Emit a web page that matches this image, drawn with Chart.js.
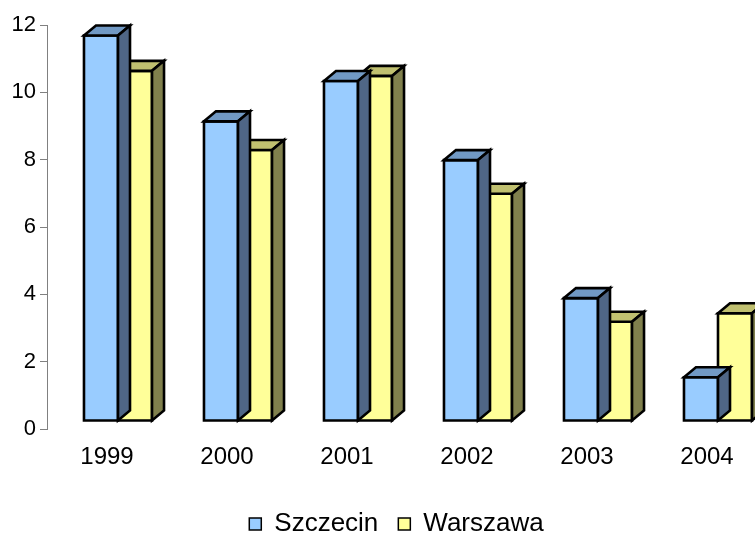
<!DOCTYPE html>
<html>
<head>
<meta charset="utf-8">
<script src="https://cdn.jsdelivr.net/npm/chart.js@4"></script>
<style>
  html, body { margin: 0; padding: 0; overflow: hidden; background: #fff; }
  #wrap { width: 793px; height: 535px; }
</style>
</head>
<body>
<div id="wrap"><canvas id="chart" width="793" height="535"></canvas></div>
<script>
const categories = ["1999", "2000", "2001", "2002", "2003", "2004"];
const szczecin = [11.45, 8.9, 10.1, 7.75, 3.65, 1.3];
const warszawa = [10.4, 8.05, 10.25, 6.75, 2.95, 3.2];
const yTicks = [0, 2, 4, 6, 8, 10, 12];

const FONT = "'Liberation Sans', Arial, sans-serif";

// front face / top / side colours for the fake 3d columns
const shades = [
  { front: "#99ccff", top: "#7199c4", side: "#4f6686" },
  { front: "#ffff99", top: "#c0c070", side: "#80804d" }
];

// draws each column as a little box, moved back into the floor like excel does
const bars3d = {
  id: "bars3d",
  afterLayout(chart) {
    // legend in the original sits a bit right of the canvas centre
    if (chart.legend) {
      chart.legend.left += 13;
      chart.legend.right += 13;
    }
  },
  beforeDatasetDraw(chart, args) {
    const ctx = chart.ctx;
    const c = shades[args.index];
    const shiftX = 11, shiftY = -8;   // where the front face sits
    const dx = 12, dy = -10;          // depth of the box
    ctx.save();
    ctx.lineWidth = 2.6;
    ctx.lineJoin = "miter";
    ctx.strokeStyle = "#000";
    args.meta.data.forEach(bar => {
      const p = bar.getProps(["x", "y", "base", "width"], true);
      const l = p.x - p.width / 2 + shiftX;
      const r = p.x + p.width / 2 + shiftX;
      const t = p.y + shiftY;
      const b = p.base + shiftY;

      ctx.fillStyle = c.front;
      ctx.beginPath();
      ctx.rect(l, t, r - l, b - t);
      ctx.fill();
      ctx.stroke();

      ctx.fillStyle = c.top;
      ctx.beginPath();
      ctx.moveTo(l, t);
      ctx.lineTo(l + dx, t + dy);
      ctx.lineTo(r + dx, t + dy);
      ctx.lineTo(r, t);
      ctx.closePath();
      ctx.fill();
      ctx.stroke();

      ctx.fillStyle = c.side;
      ctx.beginPath();
      ctx.moveTo(r, t);
      ctx.lineTo(r + dx, t + dy);
      ctx.lineTo(r + dx, b + dy);
      ctx.lineTo(r, b);
      ctx.closePath();
      ctx.fill();
      ctx.stroke();
    });
    ctx.restore();
    return false;
  }
};

new Chart(document.getElementById("chart"), {
  type: "bar",
  data: {
    labels: categories,
    datasets: [
      { label: "Szczecin", data: szczecin, backgroundColor: shades[0].front, borderColor: "#000", borderWidth: 1.5 },
      { label: "Warszawa", data: warszawa, backgroundColor: shades[1].front, borderColor: "#000", borderWidth: 1.5 }
    ]
  },
  options: {
    responsive: false,
    animation: false,
    layout: { padding: { top: 25, left: 0, right: 26, bottom: -12 } },
    datasets: { bar: { categoryPercentage: 0.567, barPercentage: 1 } },
    scales: {
      x: {
        grid: { display: false, drawTicks: false },
        border: { display: false },
        ticks: { color: "#000", font: { family: FONT, size: 24 }, padding: 14 },
        afterFit(scale) { scale.height = 62; }
      },
      y: {
        min: 0,
        max: 12,
        afterBuildTicks(scale) { scale.ticks = yTicks.map(v => ({ value: v })); },
        grid: { drawOnChartArea: false, drawTicks: true, tickLength: 7, color: "#808080" },
        border: { display: true, color: "#808080", width: 1 },
        ticks: { color: "#000", font: { family: FONT, size: 22 }, padding: 4 },
        afterFit(scale) { scale.width = 47; }
      }
    },
    plugins: {
      tooltip: { enabled: false },
      legend: {
        position: "bottom",
        labels: {
          color: "#000",
          font: { family: FONT, size: 26 },
          boxWidth: 12,
          boxHeight: 12,
          padding: 20
        }
      }
    }
  },
  plugins: [bars3d]
});
</script>
</body>
</html>
